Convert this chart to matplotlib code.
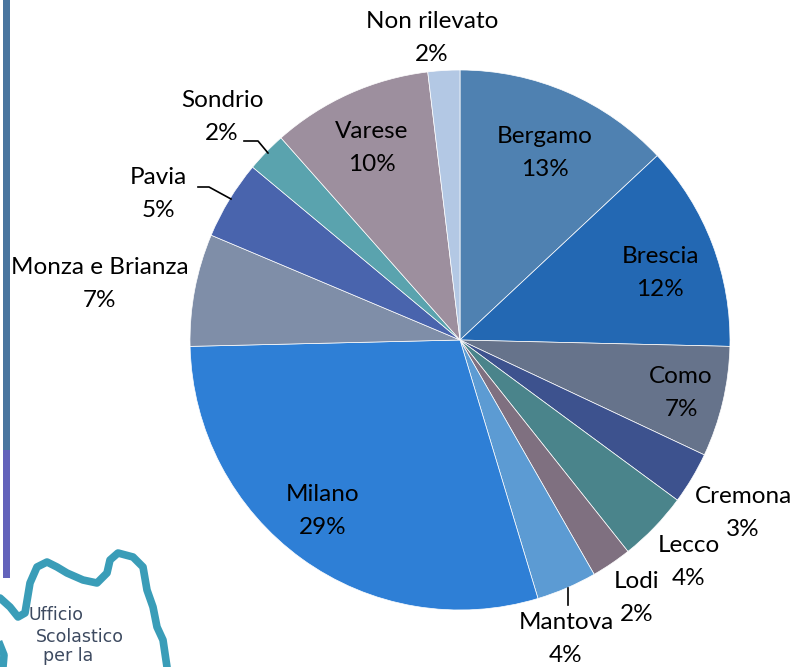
import matplotlib
matplotlib.use("Agg")
import matplotlib.pyplot as plt
from matplotlib.patches import Rectangle

plt.rcParams['font.family'] = ['Lato', 'DejaVu Sans']

categories = ["Bergamo", "Brescia", "Como", "Cremona", "Lecco", "Lodi", "Mantova",
              "Milano", "Monza e Brianza", "Pavia", "Sondrio", "Varese", "Non rilevato"]
shares = [13.0, 12.3, 6.6, 3.1, 4.2, 2.4, 3.6, 29.2, 6.7, 4.7, 2.4, 9.6, 1.9]
pct_labels = ["13%", "12%", "7%", "3%", "4%", "2%", "4%", "29%", "7%", "5%", "2%", "10%", "2%"]
colors = ["#4f81b1", "#2368b3", "#66738b", "#3d528e", "#4a848b", "#7f7080", "#5c9bd3",
          "#2e7fd6", "#7f8ea8", "#4964ad", "#5aa3ae", "#9d8f9e", "#b3c8e4"]

W, H = 796, 667
fig = plt.figure(figsize=(W / 100, H / 100), dpi=100)
ax = fig.add_axes([0, 0, 1, 1])

cx, cy, r = 460, H - 340, 270
wedges, _ = ax.pie(shares, colors=colors, startangle=90, counterclock=False,
                   center=(cx, cy), radius=r, frame=True,
                   wedgeprops=dict(linewidth=0.5, edgecolor='white'))
ax.set_xlim(0, W)
ax.set_ylim(0, H)
ax.set_aspect('equal')
ax.axis('off')

# label positions (pixel coords from top)
label_pos = {
    "Bergamo": (545, 153), "Brescia": (660, 273), "Como": (681, 393),
    "Cremona": (743, 513), "Lecco": (689, 562), "Lodi": (637, 598),
    "Mantova": (566, 639), "Milano": (323, 511), "Monza e Brianza": (100, 284),
    "Pavia": (158, 194), "Sondrio": (222, 117), "Varese": (372, 148),
    "Non rilevato": (432, 38),
}
for name, pct in zip(categories, pct_labels):
    x, y = label_pos[name]
    ax.text(x, H - y, f"{name}\n{pct}", ha='center', va='center', fontsize=17.5,
            color='black', linespacing=1.72, zorder=5)

# leader lines
ax.plot([244, 258, 268], [H - 141, H - 141, H - 153], color='black', lw=1.2, zorder=4)
ax.plot([198, 209, 231], [H - 187, H - 187, H - 199], color='black', lw=1.2, zorder=4)
ax.plot([568, 568], [H - 588, H - 605], color='black', lw=1.2, zorder=4)

# left decorative bar
ax.add_patch(Rectangle((3, H - 450), 7, 450, color='#4a76a0', zorder=1, lw=0))
ax.add_patch(Rectangle((3, H - 578), 7, 128, color='#6363bb', zorder=1, lw=0))

# logo outline
lx = [0, 10, 18, 25, 30, 37, 47, 57, 67, 83, 97, 107, 110, 118, 133, 143, 147, 153, 157, 163, 167]
ly = [598, 607, 617, 613, 583, 567, 562, 567, 573, 580, 583, 573, 560, 553, 557, 567, 590, 607, 627, 640, 667]
ax.plot(lx, [H - v for v in ly], color='#3a9db8', lw=5.5, solid_capstyle='round', zorder=2)
ax.plot([0, 4, 3], [H - 645, H - 655, H - 667], color='#3a9db8', lw=5.5, zorder=2)
for txt, x, y in [("Ufficio", 28, 615), ("Scolastico", 36, 637), ("per la", 43, 656)]:
    ax.text(x, H - y, txt, ha='left', va='center', fontsize=12.5,
            family=['DejaVu Sans'], color='#3d4a60', zorder=3)

fig.savefig("out.png", dpi=100, facecolor='white')
